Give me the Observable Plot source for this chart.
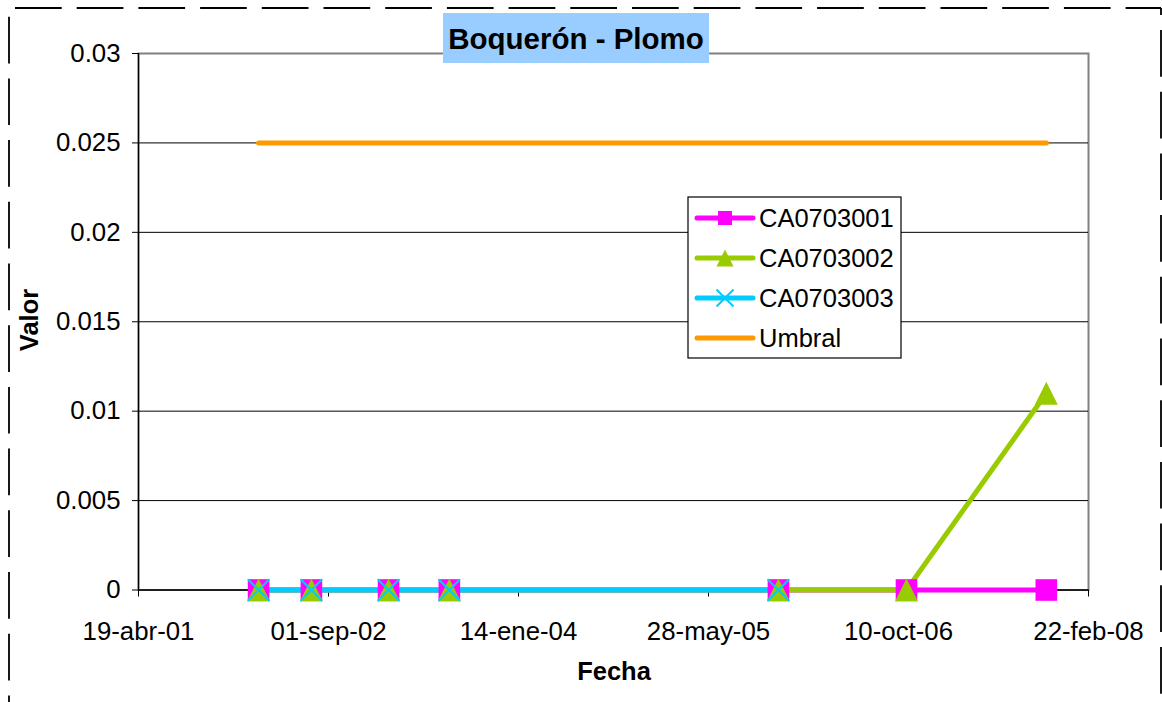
<!DOCTYPE html>
<html><head><meta charset="utf-8">
<script src="https://cdn.jsdelivr.net/npm/d3@7"></script>
<script src="https://cdn.jsdelivr.net/npm/@observablehq/plot@0.6"></script>
<style>
html,body{margin:0;padding:0;background:#fff;}
#chart{width:1162px;height:702px;}
</style></head><body><div id="chart"></div>
<script>
const chartTitle = "Boquerón - Plomo";
const xLabel = "Fecha";
const yLabel = "Valor";
const sampleDates = ["2002-03-01","2002-07-18","2003-02-06","2003-07-16","2005-11-28","2006-10-31","2007-11-03"];
const ca0703001 = [0,0,0,0,0,0,0];
const ca0703002 = [0,0,0,0,0,0,0.011];
const ca0703003 = [0,0,0,0,0];
const umbral = [0.025,0.025,0.025,0.025,0.025,0.025,0.025];
const xTickDates = ["2001-04-19","2002-09-01","2004-01-14","2005-05-28","2006-10-10","2008-02-22"];
const yTicks = [0,0.005,0.01,0.015,0.02,0.025,0.03];
const seriesNames = ["CA0703001","CA0703002","CA0703003","Umbral"];
const seriesColors = ["#FF00FF","#99CC00","#00CCFF","#FF9900"];
const monthsEs = ["ene","feb","mar","abr","may","jun","jul","ago","sep","oct","nov","dic"];

const parse = s => new Date(s + "T00:00:00Z");
const seriesValues = [ca0703001, ca0703002, ca0703003, umbral];
const rowsBySeries = seriesValues.map((vals, i) =>
  vals.map((v, j) => ({series: seriesNames[i], date: parse(sampleDates[j]), value: v})));

const pad = n => String(n).padStart(2, "0");
const fmtDate = d => `${pad(d.getUTCDate())}-${monthsEs[d.getUTCMonth()]}-${pad(d.getUTCFullYear() % 100)}`;
const fmtY = d => String(+d.toFixed(3));

const symR = size => Math.sqrt(size / Math.PI);
const sqSym = {draw(ctx, size){ const r = symR(size); ctx.rect(-r, -r, 2*r, 2*r); }};
const triSym = {draw(ctx, size){ const r = symR(size); ctx.moveTo(0, -r); ctx.lineTo(r, r); ctx.lineTo(-r, r); ctx.closePath(); }};
const xSym = {draw(ctx, size){ const r = symR(size); ctx.moveTo(-r, -r); ctx.lineTo(r, r); ctx.moveTo(-r, r); ctx.lineTo(r, -r); }};

const xTicks = xTickDates.map(parse);
const FONT = "'Liberation Sans', Arial, sans-serif";

const plot = Plot.plot({
  width: 1162, height: 702,
  marginLeft: 138, marginRight: 74, marginTop: 53, marginBottom: 112.5,
  style: {fontFamily: FONT, fontSize: "25.8px", background: "transparent", color: "#000"},
  x: {type: "utc", domain: [xTicks[0], xTicks[xTicks.length - 1]]},
  y: {domain: [0, 0.03]},
  marks: [
    Plot.frame({stroke: "#808080", strokeWidth: 2}),
    Plot.ruleY(yTicks.slice(1, -1), {stroke: "#000", strokeWidth: 1}),
    Plot.axisY({ticks: yTicks, tickSize: 6, tickPadding: 12, tickFormat: fmtY, label: null}),
    Plot.axisX({ticks: xTicks, tickSize: 7, tickPadding: 25, tickFormat: fmtDate, label: null}),
    Plot.ruleX([xTicks[0]], {stroke: "#000", strokeWidth: 1.3}),
    Plot.ruleY([0], {stroke: "#000", strokeWidth: 1.3}),
    ...rowsBySeries.map((rows, i) => Plot.line(rows, {x: "date", y: "value", stroke: seriesColors[i], strokeWidth: 5})),
    Plot.dot(rowsBySeries[0], {x: "date", y: "value", symbol: sqSym, r: 10.8, fill: seriesColors[0], stroke: "none"}),
    Plot.dot(rowsBySeries[1], {x: "date", y: "value", symbol: triSym, r: 11.5, fill: seriesColors[1], stroke: "none"}),
    Plot.dot(rowsBySeries[2], {x: "date", y: "value", symbol: xSym, r: 10.8, fill: "none", stroke: seriesColors[2], strokeWidth: 2})
  ]
});
document.getElementById("chart").appendChild(plot);

const svg = d3.select(plot);

// dashed outer border
const border = svg.append("g").attr("fill", "none").attr("stroke", "#000").attr("stroke-width", 1.8).attr("stroke-dasharray", "46.7 15");
border.append("line").attr("x1", 9).attr("y1", 8).attr("x2", 1161).attr("y2", 8).attr("stroke-dashoffset", 55.7);
border.append("line").attr("x1", 9).attr("y1", 8).attr("x2", 9).attr("y2", 720).attr("stroke-dashoffset", 53);
border.append("line").attr("x1", 1161).attr("y1", 8).attr("x2", 1161).attr("y2", 720).attr("stroke-dashoffset", 39.7);

// title
svg.append("rect").attr("x", 443).attr("y", 13).attr("width", 266).attr("height", 50).attr("fill", "#99CCFF");
svg.append("text").attr("x", 576).attr("y", 38).attr("text-anchor", "middle").attr("dominant-baseline", "central")
  .attr("font-family", FONT).attr("font-weight", "bold").attr("font-size", 29.5).text(chartTitle);

// axis titles
svg.append("text").attr("transform", "translate(29,320) rotate(-90)").attr("text-anchor", "middle").attr("dominant-baseline", "central")
  .attr("font-family", FONT).attr("font-weight", "bold").attr("font-size", 25.5).text(yLabel);
svg.append("text").attr("x", 614).attr("y", 671).attr("text-anchor", "middle").attr("dominant-baseline", "central")
  .attr("font-family", FONT).attr("font-weight", "bold").attr("font-size", 25.5).text(xLabel);

// legend
const lg = svg.append("g");
lg.append("rect").attr("x", 688).attr("y", 197).attr("width", 213).attr("height", 161).attr("fill", "#fff").attr("stroke", "#000").attr("stroke-width", 1.2);
const legSyms = [sqSym, triSym, xSym, null];
const legR = [7, 8.5, 8.5, 0];
seriesNames.forEach((name, i) => {
  const cy = 218 + i * 40;
  lg.append("line").attr("x1", 697).attr("x2", 753).attr("y1", cy).attr("y2", cy)
    .attr("stroke", seriesColors[i]).attr("stroke-width", 5).attr("stroke-linecap", "round");
  if (legSyms[i]) {
    const p = d3.symbol(legSyms[i], Math.PI * legR[i] * legR[i])();
    const isX = legSyms[i] === xSym;
    lg.append("path").attr("d", p).attr("transform", `translate(725,${cy})`)
      .attr("fill", isX ? "none" : seriesColors[i]).attr("stroke", isX ? seriesColors[i] : "none").attr("stroke-width", 2);
  }
  lg.append("text").attr("x", 759).attr("y", cy).attr("text-anchor", "start").attr("dominant-baseline", "central")
    .attr("font-family", FONT).attr("font-size", 25.5).text(name);
});
</script></body></html>
